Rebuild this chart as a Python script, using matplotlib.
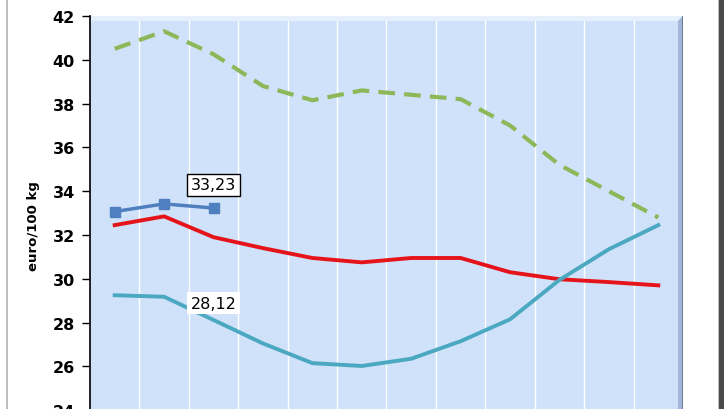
import matplotlib.pyplot as plt
from matplotlib.patches import Rectangle, Polygon

months = list(range(1, 13))
green_dash = [40.5, 41.3, 40.25, 38.8, 38.15, 38.6, 38.4, 38.2, 37.0, 35.2, 34.0, 32.8]
red_line = [32.45, 32.85, 31.9, 31.4, 30.95, 30.75, 30.95, 30.95, 30.3, 29.98, 29.85, 29.7]
cyan_line = [29.25, 29.18, 28.12, 27.05, 26.15, 26.02, 26.35, 27.15, 28.15, 29.95, 31.35, 32.45]
blue_months = [1, 2, 3]
blue_line = [33.07, 33.42, 33.23]
yticks = [24, 26, 28, 30, 32, 34, 36, 38, 40, 42]

fig = plt.figure(figsize=(7.28, 4.10), dpi=100)
fig.patch.set_facecolor('white')

# outer frame of the chart (grey left line, dark right border)
fig.add_artist(Rectangle((0.009, -0.01), 0.978, 1.02, transform=fig.transFigure,
                         fill=False, edgecolor='#b0b0b0', lw=1.2))
fig.add_artist(Rectangle((0.988, -0.01), 0.006, 1.02, transform=fig.transFigure,
                         facecolor='#4a4a4a', edgecolor='none'))

ax = fig.add_axes([0.1236, -0.003, 0.8146, 0.9617])
ax.set_facecolor('#cfe2fa')
ax.set_xlim(0.5, 12.5)
ax.set_ylim(24, 42)

# vertical white gridlines between months
for xv in range(1, 12):
    ax.axvline(xv + 0.5, color='white', lw=1.0, zorder=1)

# bevel on top and right edge
ax.add_patch(Polygon([(0, 1), (1, 1), (0.991, 0.987), (0, 0.987)], closed=True,
                     transform=ax.transAxes, facecolor='#e6f0fd', edgecolor='none', zorder=1.5))
ax.add_patch(Polygon([(1, 1), (1, 0), (0.991, 0), (0.991, 0.987)], closed=True,
                     transform=ax.transAxes, facecolor='#a3b8d8', edgecolor='none', zorder=1.5))
ax.plot([1.0, 1.0], [0, 1], transform=ax.transAxes, color='#6d7f99', lw=1.5, zorder=1.6)

ax.plot(months, green_dash, color='#8db85a', lw=3, ls=(0, (4, 2.2)), zorder=3)
ax.plot(months, red_line, color='#e5141b', lw=2.8, zorder=3)
ax.plot(months, cyan_line, color='#4aa8c0', lw=2.8, zorder=3)
ax.plot(blue_months, blue_line, color='#4f7fbf', lw=2.5, marker='s', ms=7, zorder=4)

ax.text(3.0, 33.95, '33,23', fontsize=11.5, ha='center', va='bottom',
        bbox=dict(facecolor='white', edgecolor='black', lw=1, pad=2.5), zorder=5)
ax.text(3.0, 28.55, '28,12', fontsize=11.5, ha='center', va='bottom',
        bbox=dict(facecolor='white', edgecolor='none', pad=2.5), zorder=5)

ax.set_yticks(yticks)
ax.set_yticklabels([str(v) for v in yticks], fontsize=11.5, fontweight='bold')
ax.set_xticks([])
ax.tick_params(axis='y', direction='out', length=6, width=1, pad=5)
ax.set_ylabel('euro/100 kg', fontsize=9.5, fontweight='bold')
ax.yaxis.set_label_coords(-0.084, 0.47)

for side in ['top', 'right', 'bottom']:
    ax.spines[side].set_visible(False)
ax.spines['left'].set_linewidth(1.2)

fig.savefig('out.png', dpi=100)
